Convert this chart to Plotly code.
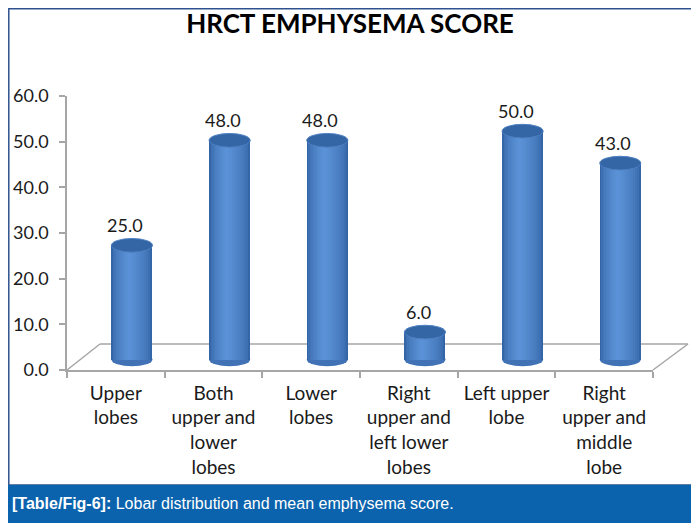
import plotly.graph_objects as go

# ---- data ----
categories = [
    "Upper<br>lobes",
    "Both<br>upper and<br>lower<br>lobes",
    "Lower<br>lobes",
    "Right<br>upper and<br>left lower<br>lobes",
    "Left upper<br>lobe",
    "Right<br>upper and<br>middle<br>lobe",
]
scores = [25.0, 48.0, 48.0, 6.0, 50.0, 43.0]
y_ticks = [0, 10, 20, 30, 40, 50, 60]
title_text = "HRCT EMPHYSEMA SCORE"
caption_bold = "[Table/Fig-6]:"
caption_rest = "Lobar distribution and mean emphysema score."

# ---- layout geometry (reference pixels; page body has an 8px margin) ----
PAGE_OFF = 8
W, H = 699 - PAGE_OFF, 523 - PAGE_OFF
X0, X1, Y_TOP, Y_BOT = 67, 653, 96, 370      # plot area in reference pixels
ML, MR, MT, MB = X0 - PAGE_OFF, 699 - X1, Y_TOP - PAGE_OFF, 523 - Y_BOT
PW, PH = X1 - X0, Y_BOT - Y_TOP


def px(x):
    return (x - X0) / PW


def py(y):
    return (Y_BOT - y) / PH


FONT = "Lato, Carlito, 'Open Sans', sans-serif"
LIFT = 2.3          # 3-D depth offset of the cylinders (value units)
SHIFT = 0.165       # 3-D depth offset of the cylinders (category units)
HALF_W = 0.21       # half bar width (category units)
CAP = 1.5           # half height of the elliptical cap (value units)
LABEL_SHIFT = 0.095

fig = go.Figure()


def mix(c1, c2, t):
    a = [int(c1[k:k + 2], 16) for k in (1, 3, 5)]
    b = [int(c2[k:k + 2], 16) for k in (1, 3, 5)]
    return "#" + "".join(f"{round(p + (q - p) * t):02x}" for p, q in zip(a, b))


# cylinder body as layered bars (simulated shading)
EDGE, CENTER = "#3465a6", "#5b92d7"
N_LAYERS = 12
HL = -0.03          # highlight slightly left of the centre
for k in range(N_LAYERS):
    t = k / (N_LAYERS - 1)
    half = HALF_W * (1 - t) + 0.015 * t
    left = SHIFT - HALF_W if k == 0 else SHIFT + HL * t - half
    wd = 2 * HALF_W if k == 0 else 2 * half
    fig.add_trace(go.Bar(
        x=categories, y=scores, base=LIFT,
        width=wd, offset=left,
        marker=dict(color=mix(EDGE, CENTER, t ** 0.6), line=dict(width=0)),
        hoverinfo="skip", showlegend=False,
    ))

shapes = []
# floor of the 3-D plot
floor_col = "#a6a6a6"
shapes += [
    dict(type="line", xref="paper", yref="paper", x0=px(100), y0=py(344), x1=px(688), y1=py(344),
         line=dict(color=floor_col, width=1.5), layer="below"),
    dict(type="line", xref="paper", yref="paper", x0=px(67), y0=py(370), x1=px(100), y1=py(344),
         line=dict(color=floor_col, width=1.5), layer="below"),
    dict(type="line", xref="paper", yref="paper", x0=px(653), y0=py(370), x1=px(688), y1=py(344),
         line=dict(color=floor_col, width=1.5), layer="below"),
]
# cylinder bottoms and tops
annotations = []
for i, v in enumerate(scores):
    c = i + SHIFT
    shapes.append(dict(type="circle", xref="x", yref="y",
                       x0=c - HALF_W, x1=c + HALF_W, y0=LIFT - CAP, y1=LIFT + CAP,
                       fillcolor="#4072b5", line=dict(width=0), layer="below"))
    shapes.append(dict(type="circle", xref="x", yref="y",
                       x0=c - HALF_W, x1=c + HALF_W, y0=v + LIFT - CAP, y1=v + LIFT + CAP,
                       fillcolor="#3465a5", line=dict(color="#4d80c2", width=1), layer="above"))
    annotations.append(dict(xref="x", yref="y", x=i + LABEL_SHIFT, y=v + LIFT + CAP,
                            yanchor="middle", yshift=13, showarrow=False,
                            text=f"{v:.1f}",
                            font=dict(family=FONT, size=18, color="#1a1a1a")))
# outer border and caption band
shapes += [
    dict(type="rect", xref="paper", yref="paper", x0=px(PAGE_OFF + 0.8), y0=py(485), x1=px(695),
         y1=py(PAGE_OFF + 0.8),
         line=dict(color="#2f528f", width=1.5), fillcolor="rgba(0,0,0,0)", layer="below"),
    dict(type="rect", xref="paper", yref="paper", x0=px(0), y0=py(523), x1=px(699), y1=py(485),
         line=dict(width=0), fillcolor="#0b63ad", layer="above"),
]
annotations.append(dict(xref="paper", yref="paper", x=px(10), y=py(503), xanchor="left",
                        yanchor="middle", text=f"<b>{caption_bold}</b> {caption_rest}",
                        showarrow=False,
                        font=dict(family="'Liberation Sans', Arial, sans-serif",
                                  size=16, color="white")))

fig.update_layout(
    width=W, height=H,
    margin=dict(l=ML, r=MR, t=MT, b=MB, autoexpand=False),
    paper_bgcolor="white", plot_bgcolor="white",
    barmode="overlay", bargap=0,
    showlegend=False,
    title=dict(text=f"<b>{title_text}</b>", x=px(350), xref="paper", xanchor="center",
               y=1 - (24 - PAGE_OFF) / H, yref="container", yanchor="middle",
               font=dict(family=FONT, size=26, color="#000000")),
    shapes=shapes,
    annotations=annotations,
    xaxis=dict(
        type="category", range=[-0.5, len(categories) - 0.5], automargin=False, tickangle=0,
        showline=True, linecolor=floor_col, linewidth=1.5,
        ticks="outside", tickson="boundaries", ticklen=6, tickcolor=floor_col, tickwidth=1.5,
        showgrid=False, zeroline=False, ticklabelstandoff=5,
        tickfont=dict(family=FONT, size=19, color="#1a1a1a"),
    ),
    yaxis=dict(
        range=[0, 60], tickvals=y_ticks, tickformat=".1f", automargin=False,
        showline=True, linecolor=floor_col, linewidth=1.5,
        ticks="outside", ticklen=6, tickcolor=floor_col, tickwidth=1.5,
        showgrid=False, zeroline=False, ticklabelstandoff=7,
        tickfont=dict(family=FONT, size=18, color="#1a1a1a"),
    ),
)

fig.write_html("out.html")
